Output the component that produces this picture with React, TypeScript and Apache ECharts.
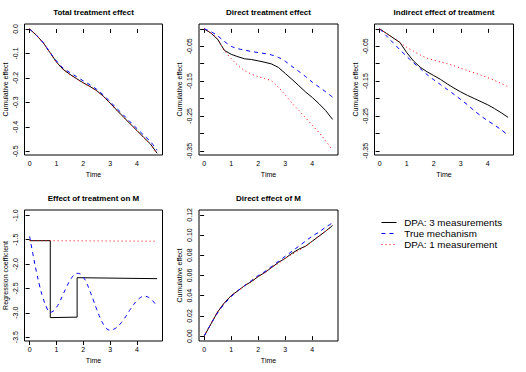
import React, { useEffect, useRef } from "react";
import * as echarts from "echarts";

const FONT = "'Liberation Sans', Arial, Helvetica, sans-serif";

// Shared time grid
const T = [0, 0.25, 0.5, 0.75, 1, 1.25, 1.5, 1.75, 2, 2.25, 2.5, 2.75, 3, 3.25, 3.5, 3.75, 4, 4.25, 4.5, 4.75];

// Panel 1: Total treatment effect
const totalBlack = [0, -0.025, -0.055, -0.095, -0.135, -0.165, -0.185, -0.203, -0.22, -0.235, -0.252, -0.275, -0.303, -0.332, -0.36, -0.388, -0.415, -0.443, -0.47, -0.508];
const totalBlue = [0, -0.025, -0.055, -0.094, -0.13, -0.16, -0.178, -0.195, -0.212, -0.228, -0.247, -0.27, -0.297, -0.325, -0.352, -0.38, -0.407, -0.434, -0.46, -0.496];
const totalRed = [0, -0.025, -0.056, -0.096, -0.136, -0.166, -0.186, -0.204, -0.221, -0.236, -0.253, -0.276, -0.304, -0.333, -0.361, -0.389, -0.417, -0.445, -0.472, -0.51];

// Panel 2: Direct treatment effect
const directBlack = [0, -0.012, -0.03, -0.062, -0.073, -0.08, -0.086, -0.088, -0.092, -0.096, -0.101, -0.111, -0.128, -0.145, -0.163, -0.181, -0.197, -0.215, -0.235, -0.26];
const directBlue = [0, -0.008, -0.02, -0.036, -0.05, -0.057, -0.061, -0.065, -0.068, -0.071, -0.075, -0.082, -0.093, -0.108, -0.122, -0.137, -0.153, -0.167, -0.181, -0.196];
const directRed = [0, -0.012, -0.03, -0.062, -0.085, -0.105, -0.12, -0.13, -0.137, -0.143, -0.15, -0.168, -0.19, -0.213, -0.234, -0.255, -0.277, -0.298, -0.322, -0.348];

// Panel 3: Indirect effect of treatment
const indirectBlack = [0, -0.013, -0.026, -0.039, -0.068, -0.092, -0.11, -0.123, -0.134, -0.145, -0.158, -0.17, -0.181, -0.191, -0.2, -0.209, -0.218, -0.229, -0.241, -0.254];
const indirectBlue = [0, -0.02, -0.04, -0.06, -0.079, -0.097, -0.114, -0.131, -0.146, -0.16, -0.174, -0.188, -0.203, -0.218, -0.235, -0.25, -0.264, -0.276, -0.29, -0.305];
const indirectRed = [0, -0.013, -0.026, -0.039, -0.053, -0.064, -0.075, -0.084, -0.09, -0.095, -0.1, -0.106, -0.113, -0.12, -0.126, -0.133, -0.14, -0.148, -0.157, -0.166];

// Panel 4: Effect of treatment on M
const stepT = [0, 0.77, 0.77, 1.77, 1.77, 4.75];
const stepBlack = [-1.52, -1.52, -3.1, -3.09, -2.28, -2.3];
const redT = [0, 4.75];
const redFlat = [-1.52, -1.53];
const waveT = [0, 0.125, 0.25, 0.375, 0.5, 0.625, 0.75, 0.875, 1, 1.125, 1.25, 1.375, 1.5, 1.625, 1.75, 1.875, 2, 2.125, 2.25, 2.375, 2.5, 2.625, 2.75, 2.875, 3, 3.125, 3.25, 3.375, 3.5, 3.625, 3.75, 3.875, 4, 4.125, 4.25, 4.375, 4.5, 4.625, 4.75];
const waveBlue = [-1.43, -1.8, -2.15, -2.45, -2.7, -2.88, -2.99, -2.97, -2.89, -2.77, -2.62, -2.47, -2.34, -2.24, -2.19, -2.2, -2.27, -2.39, -2.56, -2.74, -2.93, -3.1, -3.24, -3.33, -3.36, -3.34, -3.3, -3.23, -3.14, -3.04, -2.93, -2.83, -2.75, -2.69, -2.66, -2.67, -2.71, -2.78, -2.87];

// Panel 5: Direct effect of M
const mBlack = [0, 0.012, 0.024, 0.033, 0.04, 0.045, 0.05, 0.054, 0.059, 0.063, 0.068, 0.073, 0.077, 0.082, 0.086, 0.089, 0.094, 0.099, 0.104, 0.1095];
const mBlue = [0, 0.012, 0.023, 0.032, 0.039, 0.045, 0.05, 0.055, 0.06, 0.064, 0.069, 0.074, 0.079, 0.084, 0.089, 0.094, 0.099, 0.103, 0.108, 0.112];
const mRed = [0, 0.012, 0.024, 0.033, 0.04, 0.045, 0.05, 0.054, 0.059, 0.063, 0.068, 0.072, 0.077, 0.081, 0.085, 0.089, 0.094, 0.099, 0.104, 0.109];

// Ticks
const xTicks = [0, 1, 2, 3, 4];
const yTicks1 = [0, -0.1, -0.2, -0.3, -0.4, -0.5];
const yTicks23 = [0, -0.05, -0.1, -0.15, -0.2, -0.25, -0.3, -0.35];
const yLabels23 = [-0.05, -0.15, -0.25, -0.35];
const yTicks4 = [-1, -1.5, -2, -2.5, -3, -3.5];
const yTicks5 = [0, 0.02, 0.04, 0.06, 0.08, 0.1, 0.12];

const titles = ["Total treatment effect", "Direct treatment effect", "Indirect effect of treatment", "Effect of treatment on M", "Direct effect of M"];
const yNames = ["Cumulative effect", "Cumulative effect", "Cumulative effect", "Regression coefficient", "Cumulative effect"];
const legendLabels = ["DPA: 3 measurements", "True mechanism", "DPA: 1 measurement"];

const BLACK = "#000000";
const BLUE = "#0000ff";
const RED = "#ff0000";

function pairs(t: number[], v: number[]) {
  return v.map((y, i) => [t[i], y]);
}

export default function App() {
  const ref = useRef<HTMLDivElement>(null);
  useEffect(() => {
    if (!ref.current) return;
    const chart = echarts.init(ref.current, null, { renderer: "svg" });

    const boxes = [
      { left: 24.5, top: 24, width: 138, height: 131 },
      { left: 199, top: 24, width: 139, height: 131 },
      { left: 374.5, top: 24, width: 139, height: 131 },
      { left: 24.5, top: 210, width: 138, height: 131 },
      { left: 199, top: 210, width: 139, height: 131 },
    ];
    const yRanges = [
      [-0.515, 0.0205],
      [-0.362, 0.0139],
      [-0.362, 0.0139],
      [-3.58, -0.89],
      [-0.0048, 0.1248],
    ];
    const yTickSets = [yTicks1, yTicks23, yTicks23, yTicks4, yTicks5];
    const yLabelSets = [yTicks1, yLabels23, yLabels23, yTicks4, yTicks5];
    const yDec = [1, 2, 2, 1, 2];

    const grid = boxes.map((b) => ({
      ...b,
      show: true,
      borderColor: "#000",
      borderWidth: 1,
      backgroundColor: "transparent",
      containLabel: false,
    }));

    const xAxis = boxes.map((_, i) => ({
      type: "value",
      gridIndex: i,
      min: -0.19,
      max: 4.95,
      name: "Time",
      nameLocation: "middle",
      nameGap: 16,
      nameTextStyle: { fontSize: 7, color: "#000", fontFamily: FONT },
      axisLine: { show: false },
      splitLine: { show: false },
      axisTick: { show: true, inside: false, length: 4, customValues: xTicks, lineStyle: { color: "#000", width: 1 } },
      axisLabel: { show: true, customValues: xTicks, fontSize: 7, color: "#000", margin: 5, fontFamily: FONT, formatter: (v: number) => String(v) },
    }));

    const yAxis = boxes.map((_, i) => ({
      type: "value",
      gridIndex: i,
      min: yRanges[i][0],
      max: yRanges[i][1],
      name: yNames[i],
      nameLocation: "middle",
      nameGap: 16,
      nameRotate: 90,
      nameTextStyle: { fontSize: 7, color: "#000", fontFamily: FONT },
      axisLine: { show: false },
      splitLine: { show: false },
      axisTick: { show: true, inside: false, length: 4, customValues: yTickSets[i], lineStyle: { color: "#000", width: 1 } },
      axisLabel: {
        show: true,
        customValues: yLabelSets[i],
        rotate: 90,
        fontSize: 7,
        color: "#000",
        margin: 6,
        fontFamily: FONT,
        formatter: (v: number) => Number(v).toFixed(yDec[i]),
      },
    }));

    const mk = (idx: number, t: number[], v: number[], color: string, type: any, smooth: any = false) => ({
      type: "line",
      xAxisIndex: idx,
      yAxisIndex: idx,
      data: pairs(t, v),
      showSymbol: false,
      symbol: "none",
      smooth,
      silent: true,
      lineStyle: { color, width: 1, type },
      emphasis: { disabled: true },
    });
    const DASH = [4, 4];
    const DOT = [1, 3];

    const series = [
      mk(0, T, totalBlack, BLACK, "solid"),
      mk(0, T, totalBlue, BLUE, DASH, 0.3),
      mk(0, T, totalRed, RED, DOT, 0.3),
      mk(1, T, directBlack, BLACK, "solid"),
      mk(1, T, directBlue, BLUE, DASH, 0.3),
      mk(1, T, directRed, RED, DOT, 0.3),
      mk(2, T, indirectBlack, BLACK, "solid"),
      mk(2, T, indirectBlue, BLUE, DASH, 0.3),
      mk(2, T, indirectRed, RED, DOT, 0.3),
      mk(3, stepT, stepBlack, BLACK, "solid"),
      mk(3, waveT, waveBlue, BLUE, DASH, 0.4),
      mk(3, redT, redFlat, RED, DOT),
      mk(4, T, mBlack, BLACK, "solid"),
      mk(4, T, mBlue, BLUE, DASH, 0.3),
      mk(4, T, mRed, RED, DOT, 0.3),
    ];

    const titleGraphics = boxes.map((b, i) => ({
      type: "text",
      x: b.left + b.width / 2,
      y: b.top - 11.7,
      silent: true,
      style: {
        text: titles[i],
        fontSize: 8,
        fontWeight: "bold",
        fontFamily: FONT,
        fill: "#000",
        align: "center",
        verticalAlign: "middle",
      },
    }));

    const legendColors = [BLACK, BLUE, RED];
    const legendDash: any[] = [null, [4, 4], [1, 3]];
    const legendGraphics: any[] = [];
    legendLabels.forEach((lab, i) => {
      const y = 222.5 + i * 11;
      legendGraphics.push({
        type: "line",
        silent: true,
        shape: { x1: 381.5, y1: y, x2: 396.5, y2: y },
        style: { stroke: legendColors[i], lineWidth: 1, lineDash: legendDash[i] || undefined },
      });
      legendGraphics.push({
        type: "text",
        x: 404.3,
        y,
        silent: true,
        style: { text: lab, fontSize: 9.8, fontFamily: FONT, fill: "#000", align: "left", verticalAlign: "middle" },
      });
    });

    chart.setOption({
      animation: false,
      backgroundColor: "#ffffff",
      textStyle: { fontFamily: FONT },
      grid,
      xAxis,
      yAxis,
      series,
      graphic: [...titleGraphics, ...legendGraphics],
    });
    return () => chart.dispose();
  }, []);

  return (
    <div
      ref={ref}
      style={{ position: "fixed", left: 0, top: 0, width: 526, height: 372, background: "#fff" }}
    />
  );
}
